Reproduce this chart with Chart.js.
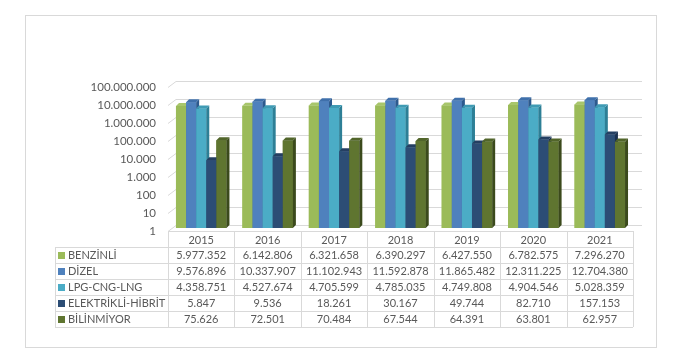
<!DOCTYPE html>
<html>
<head>
<meta charset="utf-8">
<script src="https://cdn.jsdelivr.net/npm/chart.js@4"></script>
<style>
  html, body { margin: 0; padding: 0; background: #fff; }
  #wrap { width: 695px; height: 362px; position: relative; }
</style>
</head>
<body>
<div id="wrap"><canvas id="chart"></canvas></div>
<script>
const years = ['2015', '2016', '2017', '2018', '2019', '2020', '2021'];
const seriesNames = ['BENZİNLİ', 'DİZEL', 'LPG-CNG-LNG', 'ELEKTRİKLİ-HİBRİT', 'BİLİNMİYOR'];
const benzinli = [5977352, 6142806, 6321658, 6390297, 6427550, 6782575, 7296270];
const dizel = [9576896, 10337907, 11102943, 11592878, 11865482, 12311225, 12704380];
const lpgCngLng = [4358751, 4527674, 4705599, 4785035, 4749808, 4904546, 5028359];
const elektrikliHibrit = [5847, 9536, 18261, 30167, 49744, 82710, 157153];
const bilinmiyor = [75626, 72501, 70484, 67544, 64391, 63801, 62957];
const yTickValues = [1, 10, 100, 1000, 10000, 100000, 1000000, 10000000, 100000000];
const yTickLabels = ['1', '10', '100', '1.000', '10.000', '100.000', '1.000.000', '10.000.000', '100.000.000'];

// Excel-ish palette: front, side, top
const COLORS = [
  { front: '#9bbb59', side: '#718d3b', top: '#a8c66b' },
  { front: '#4f81bd', side: '#2d5a8e', top: '#3f70ab' },
  { front: '#4bacc6', side: '#2d7f96', top: '#3f9bb4' },
  { front: '#2c4d75', side: '#1a3050', top: '#243f62' },
  { front: '#5f7530', side: '#3b4a1c', top: '#51652a' },
];

const TEXT = '#595959';
const LINE = '#d9d9d9';
const FONT = "Lato, 'Open Sans', sans-serif";
const DEPTH = 3;

const fmt = (n) => String(n).replace(/\B(?=(\d{3})+(?!\d))/g, '.');

// Outer frame of the chart
const framePlugin = {
  id: 'frame',
  beforeDraw(chart) {
    const ctx = chart.ctx;
    ctx.save();
    ctx.strokeStyle = LINE;
    ctx.lineWidth = 1;
    ctx.strokeRect(25.5, 15.5, 631, 332);
    ctx.restore();
  },
};

// Back-wall gridlines with a small diagonal on the left, like the 3D original
const wallGridPlugin = {
  id: 'wallGrid',
  beforeDatasetsDraw(chart) {
    const { ctx, chartArea } = chart;
    const y = chart.scales.y;
    ctx.save();
    ctx.strokeStyle = LINE;
    ctx.lineWidth = 1;
    yTickValues.forEach((v) => {
      const py = Math.round(y.getPixelForValue(v)) + 0.5;
      ctx.beginPath();
      ctx.moveTo(chartArea.left, py + DEPTH);
      ctx.lineTo(chartArea.left + 8, py - DEPTH);
      ctx.lineTo(chartArea.right + 9, py - DEPTH);
      ctx.stroke();
    });
    ctx.restore();
  },
};

// Give each bar a side and a top face
const bars3dPlugin = {
  id: 'bars3d',
  afterDatasetsDraw(chart) {
    const ctx = chart.ctx;
    const metas = chart.data.datasets.map((_, i) => chart.getDatasetMeta(i));
    ctx.save();
    years.forEach((_, j) => {
      metas.forEach((meta, i) => {
        const bar = meta.data[j];
        if (!bar) return;
        const { x, y, base, width } = bar.getProps(['x', 'y', 'base', 'width'], true);
        const l = x - width / 2;
        const r = x + width / 2;
        const c = COLORS[i];
        ctx.fillStyle = c.front;
        ctx.fillRect(l, y, width, base - y);
        ctx.fillStyle = c.side;
        ctx.beginPath();
        ctx.moveTo(r, y);
        ctx.lineTo(r + DEPTH, y - DEPTH);
        ctx.lineTo(r + DEPTH, base - DEPTH);
        ctx.lineTo(r, base);
        ctx.closePath();
        ctx.fill();
        ctx.fillStyle = c.top;
        ctx.beginPath();
        ctx.moveTo(l, y);
        ctx.lineTo(l + DEPTH, y - DEPTH);
        ctx.lineTo(r + DEPTH, y - DEPTH);
        ctx.lineTo(r, y);
        ctx.closePath();
        ctx.fill();
      });
    });
    ctx.restore();
  },
};

// Data table under the plot, columns follow the category scale
const dataTablePlugin = {
  id: 'dataTable',
  afterDraw(chart) {
    const { ctx, chartArea } = chart;
    const xs = chart.scales.x;
    const colW = (chartArea.right - chartArea.left) / years.length;
    const top = chartArea.bottom + 3;
    const headerBottom = top + 16;
    const rowH = 16;
    const legendLeft = 55;
    const bottom = headerBottom + rowH * seriesNames.length;
    const rows = [benzinli, dizel, lpgCngLng, elektrikliHibrit, bilinmiyor];

    ctx.save();
    ctx.strokeStyle = LINE;
    ctx.lineWidth = 1;

    // horizontal lines
    ctx.beginPath();
    ctx.moveTo(chartArea.left, top + 0.5);
    ctx.lineTo(chartArea.right, top + 0.5);
    for (let k = 0; k <= seriesNames.length; k++) {
      const yy = Math.round(headerBottom + k * rowH) + 0.5;
      ctx.moveTo(legendLeft, yy);
      ctx.lineTo(chartArea.right, yy);
    }
    // vertical lines
    ctx.moveTo(legendLeft + 0.5, headerBottom);
    ctx.lineTo(legendLeft + 0.5, bottom);
    for (let k = 0; k <= years.length; k++) {
      const xx = Math.round(chartArea.left + k * colW) + 0.5;
      ctx.moveTo(xx, top);
      ctx.lineTo(xx, bottom);
    }
    ctx.stroke();

    ctx.fillStyle = TEXT;
    ctx.font = `11px ${FONT}`;
    ctx.textBaseline = 'middle';
    ctx.textAlign = 'center';
    years.forEach((yr, j) => {
      ctx.fillText(yr, xs.getPixelForValue(j), top + 9);
    });

    rows.forEach((vals, i) => {
      const cy = headerBottom + i * rowH + rowH / 2 + 0.5;
      ctx.fillStyle = COLORS[i].front;
      ctx.fillRect(legendLeft + 3, cy - 3.5, 7, 7);
      ctx.fillStyle = TEXT;
      ctx.textAlign = 'left';
      ctx.fillText(seriesNames[i], legendLeft + 13, cy);
      ctx.textAlign = 'center';
      vals.forEach((v, j) => {
        ctx.fillText(fmt(v), xs.getPixelForValue(j), cy);
      });
    });
    ctx.restore();
  },
};

const seriesData = [benzinli, dizel, lpgCngLng, elektrikliHibrit, bilinmiyor];

new Chart(document.getElementById('chart'), {
  type: 'bar',
  data: {
    labels: years,
    datasets: seriesNames.map((name, i) => ({
      label: name,
      data: seriesData[i],
      backgroundColor: COLORS[i].front,
      borderWidth: 0,
      categoryPercentage: 0.76,
      barPercentage: 1.0,
    })),
  },
  options: {
    responsive: true,
    maintainAspectRatio: false,
    animation: false,
    layout: { padding: { left: 25, right: 62, top: 84, bottom: 134 } },
    plugins: {
      legend: { display: false },
      tooltip: { enabled: false },
    },
    scales: {
      x: {
        display: false,
        grid: { display: false },
      },
      y: {
        type: 'logarithmic',
        min: 1,
        max: 100000000,
        afterFit: (s) => { s.width = 143; },
        afterBuildTicks: (s) => { s.ticks = yTickValues.map((v) => ({ value: v })); },
        border: { display: false },
        grid: { display: false, drawTicks: false },
        ticks: {
          color: TEXT,
          font: { family: FONT, size: 11.5 },
          padding: 12,
          labelOffset: 3,
          autoSkip: false,
          callback: (v) => {
            const idx = yTickValues.indexOf(v);
            return idx >= 0 ? yTickLabels[idx] : '';
          },
        },
      },
    },
  },
  plugins: [framePlugin, wallGridPlugin, bars3dPlugin, dataTablePlugin],
});
</script>
</body>
</html>
